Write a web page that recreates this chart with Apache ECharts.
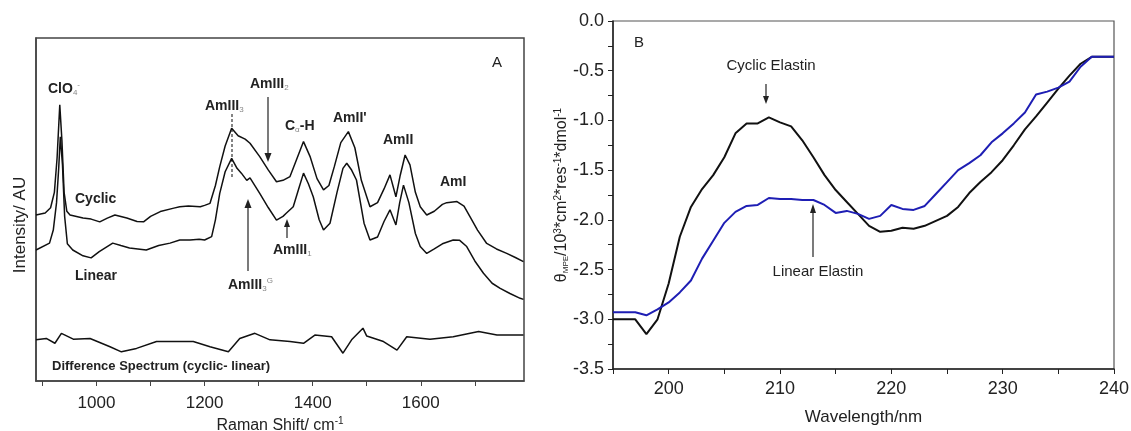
<!DOCTYPE html>
<html>
<head>
<meta charset="utf-8">
<script src="https://cdn.jsdelivr.net/npm/echarts@6/dist/echarts.min.js"></script>
<style>
html,body{margin:0;padding:0;background:#fff;}
#c{width:1131px;height:431px;}
</style>
</head>
<body>
<div id="c"></div>
<script>
// ---------- Panel A: Raman spectra (arbitrary intensity units) ----------
const ramanCyclicShift = [888,905,915,922,927,932,936,940,945,951,975,990,1006,1020,1034,1056,1075,1087,1100,1118,1143,1154,1170,1192,1200,1210,1220,1228,1238,1250,1262,1275,1284,1302,1318,1333,1345,1358,1370,1383,1395,1408,1420,1430,1440,1452,1466,1478,1490,1506,1520,1532,1543,1554,1562,1571,1580,1590,1599,1611,1625,1640,1648,1667,1680,1691,1705,1722,1740,1759,1775,1790];
const ramanCyclic = [48.4,49.0,50.5,55,65,80.5,70,55,49.5,48.4,47.5,47.2,46.4,47.5,48.4,47.5,46.5,46.4,48,49.4,50.4,50.8,51.0,50.8,51.2,51.8,57,62.5,68.5,73.7,71.5,70.5,69.3,65.4,61.5,58.1,58.5,59.6,64.5,69.8,65.5,59,55.7,57,62.5,69.5,72.7,68,58.5,50.8,52,56,60.1,53.7,60,65.9,63,55,50.8,48.4,49.5,51.5,52.0,52.3,51,47.9,44,40.1,38.5,37.2,36,34.8];

const ramanLinearShift = [888,913,920,926,930,933,937,941,946,956,975,990,1005,1030,1045,1061,1092,1115,1136,1154,1173,1190,1200,1213,1220,1228,1238,1250,1260,1268,1278,1284,1302,1318,1333,1345,1351,1364,1374,1383,1392,1401,1412,1420,1432,1445,1456,1463,1472,1481,1495,1506,1520,1532,1543,1554,1561,1568,1578,1590,1599,1611,1625,1640,1660,1672,1685,1700,1716,1732,1747,1765,1784,1790];
const ramanLinear = [38.2,40.2,44,52,62,71.2,63,48,40,38.2,36.5,35.9,37.7,40.2,39.5,38.8,38.2,39.5,40.2,41.1,41.1,41.3,41.1,42.1,47,54.7,61,64.9,62,60.6,58.5,59.2,54.7,50.5,46.9,48,48.9,50.8,56,60.6,57.5,53.7,47,44.0,46,55,62,63.5,61.5,58.6,46,41.1,42,46.5,49.9,45.5,52,57.1,52,43,39.2,37.2,38.5,40,41.1,41,39.2,35,31.4,28.5,27.0,25.5,24.1,23.8];

const ramanDiffShift = [888,907,923,935,957,988,1025,1046,1074,1111,1142,1179,1210,1244,1265,1293,1321,1358,1383,1404,1435,1456,1472,1493,1500,1531,1556,1574,1617,1660,1707,1741,1790];
const ramanDiff = [12.0,12.4,11.0,13.9,12.2,12.4,10.0,8.5,9.5,11.5,11.5,11.5,10.0,8.5,12.4,13.9,12.0,11.5,11.0,13.4,12.9,8.1,12.0,15.4,13.1,11.5,9.0,12.9,12.2,12.9,14.4,13.4,13.4];

const ramanTickValues = [900,1000,1100,1200,1300,1400,1500,1600,1700];
const ramanLabelValues = [1000,1200,1400,1600];

// ---------- Panel B: CD spectra ----------
const wavelength = [195,196,197,198,199,200,201,202,203,204,205,206,207,208,209,210,211,212,213,214,215,216,217,218,219,220,221,222,223,224,225,226,227,228,229,230,231,232,233,234,235,236,237,238,239,240];
const cdCyclic = [-3.0,-3.0,-3.0,-3.15,-3.0,-2.64,-2.17,-1.87,-1.69,-1.55,-1.37,-1.13,-1.03,-1.03,-0.97,-1.02,-1.06,-1.20,-1.37,-1.55,-1.70,-1.82,-1.94,-2.06,-2.12,-2.11,-2.08,-2.09,-2.06,-2.01,-1.96,-1.87,-1.73,-1.62,-1.52,-1.40,-1.25,-1.09,-0.96,-0.82,-0.68,-0.55,-0.43,-0.36,-0.36,-0.36];
const cdLinear = [-2.93,-2.93,-2.93,-2.96,-2.90,-2.83,-2.73,-2.61,-2.39,-2.21,-2.03,-1.92,-1.86,-1.85,-1.78,-1.79,-1.79,-1.80,-1.80,-1.85,-1.93,-1.91,-1.94,-1.99,-1.96,-1.85,-1.89,-1.90,-1.86,-1.74,-1.62,-1.50,-1.43,-1.35,-1.22,-1.13,-1.03,-0.92,-0.74,-0.71,-0.67,-0.61,-0.46,-0.36,-0.36,-0.36];

function pairs(xs, ys){ return xs.map((x,i)=>[x, ys[i]]); }

const FONT = '"Liberation Sans", Arial, sans-serif';
const TXT = '#222';

const chart = echarts.init(document.getElementById('c'), null, {renderer:'canvas'});

function vArrow(x, y1, y2, hl, hw){
  const dir = y2 > y1 ? 1 : -1;
  return [
    {type:'line', shape:{x1:x, y1:y1, x2:x, y2:y2 - dir*hl*0.5}, style:{stroke:'#222', lineWidth:1.2}, silent:true},
    {type:'polygon', shape:{points:[[x,y2],[x-hw,y2-dir*hl],[x+hw,y2-dir*hl]]}, style:{fill:'#222'}, silent:true}
  ];
}

function label(x, y, text, opts){
  opts = opts || {};
  return {type:'text', x:x, y:y, silent:true,
    style:Object.assign({text:text, fill:TXT, fontFamily:FONT, fontSize:opts.size||14, fontWeight:opts.weight||'bold',
      align:opts.align||'left', verticalAlign:'middle',
      rich:{
        sup:{fontSize:8, verticalAlign:'top', fontFamily:FONT, fill:'#888', lineHeight:16},
        sub:{fontSize:8, verticalAlign:'bottom', fontFamily:FONT, fill:'#888', lineHeight:16},
        n:{fontSize:opts.size||14, fontWeight:opts.weight||'bold', fontFamily:FONT, fill:TXT, lineHeight:16, verticalAlign:'middle'}
      }}, opts.style||{})};
}

const graphics = [
  // Panel A annotations
  label(48, 89, '{n|ClO}{sub|4}{sup|-}'),
  label(205, 106, '{n|AmIII}{sub|3}'),
  {type:'line', shape:{x1:232, y1:114, x2:232, y2:178}, style:{stroke:'#333', lineWidth:1.2, lineDash:[3,2]}, silent:true},
  label(250, 84, '{n|AmIII}{sub|2}'),
  ...vArrow(268, 97, 162, 9, 3.5),
  label(285, 126, '{n|C}{sub|α}{n|-H}'),
  label(333, 118, "AmII'"),
  label(383, 140, 'AmII'),
  label(440, 182, 'AmI'),
  label(497, 63, 'A', {align:'center', size:15, weight:'normal'}),
  label(273, 250, '{n|AmIII}{sub|1}'),
  ...vArrow(287, 238, 219, 8, 3),
  label(228, 285, '{n|AmIII}{sub|3}{sup|G}'),
  ...vArrow(248, 271, 199, 9, 3.5),
  label(75, 199, 'Cyclic'),
  label(75, 276, 'Linear'),
  label(52, 366, 'Difference Spectrum (cyclic- linear)', {size:13}),
  {type:'text', x:20, y:225, rotation:Math.PI/2, silent:true,
    style:{text:'Intensity/ AU', fill:TXT, fontFamily:FONT, fontSize:17, align:'center', verticalAlign:'middle'}},
  // Panel B annotations
  label(639, 43, 'B', {align:'center', size:15, weight:'normal'}),
  label(771, 66, 'Cyclic Elastin', {align:'center', size:15, weight:'normal'}),
  ...vArrow(766, 84, 104, 8, 3),
  label(818, 272, 'Linear Elastin', {align:'center', size:15, weight:'normal'}),
  ...vArrow(813, 257, 204, 9, 3)
];

const option = {
  backgroundColor:'#fff',
  animation:false,
  grid:[
    {left:36, top:38, width:488, height:343, show:true, borderColor:'#444', borderWidth:1.5, backgroundColor:'transparent', outerBoundsMode:'none', containLabel:false},
    {left:613, top:21, width:501, height:348, show:true, borderColor:'#555', borderWidth:1.2, backgroundColor:'transparent', outerBoundsMode:'none', containLabel:false}
  ],
  xAxis:[
    {type:'value', gridIndex:0, min:888, max:1791,
      axisLine:{show:true, onZero:false, lineStyle:{color:'#444', width:1.5}},
      axisTick:{show:true, inside:false, length:5, customValues:ramanTickValues, lineStyle:{color:'#444'}},
      axisLabel:{show:true, customValues:ramanLabelValues, margin:14, fontSize:17, fontFamily:FONT, color:TXT, formatter:v => String(v)},
      splitLine:{show:false},
      name:'Raman Shift/ cm{sup|-1}', nameLocation:'middle', nameGap:35, nameMoveOverlap:false,
      nameTextStyle:{fontSize:16, fontFamily:FONT, color:TXT, rich:{sup:{fontSize:10, verticalAlign:'top', fontFamily:FONT, color:TXT, lineHeight:20}}}
    },
    {type:'value', gridIndex:1, min:195, max:240, interval:5,
      axisLine:{show:true, onZero:false, lineStyle:{color:'#222', width:1.5}},
      axisTick:{show:true, inside:false, length:5, lineStyle:{color:'#222'}},
      axisLabel:{show:true, margin:11, fontSize:18, fontFamily:FONT, color:TXT,
        formatter:v => (v % 10 === 0 ? String(v) : '')},
      splitLine:{show:false},
      name:'Wavelength/nm', nameLocation:'middle', nameGap:40, nameMoveOverlap:false,
      nameTextStyle:{fontSize:17, fontFamily:FONT, color:TXT}
    }
  ],
  yAxis:[
    {type:'value', gridIndex:0, min:0, max:100,
      axisLine:{show:true, onZero:false, lineStyle:{color:'#444', width:1.5}},
      axisTick:{show:false}, axisLabel:{show:false}, splitLine:{show:false}},
    {type:'value', gridIndex:1, min:-3.5, max:0, interval:0.5,
      axisLine:{show:true, onZero:false, lineStyle:{color:'#222', width:1.5}},
      axisTick:{show:true, inside:false, length:5, lineStyle:{color:'#222'}},
      minorTick:{show:true, splitNumber:2, length:5, lineStyle:{color:'#222'}},
      axisLabel:{show:true, margin:9, fontSize:18, fontFamily:FONT, color:TXT, formatter:v => v.toFixed(1)},
      splitLine:{show:false},
      name:'θ{sub|MPE}/10{sup|3}*cm{sup|2}*res{sup|-1}*dmol{sup|-1}', nameLocation:'middle', nameGap:43, nameRotate:90, nameMoveOverlap:false,
      nameTextStyle:{fontSize:16, fontFamily:FONT, color:TXT,
        rich:{sup:{fontSize:10, verticalAlign:'top', fontFamily:FONT, color:TXT, lineHeight:17},
              sub:{fontSize:8, verticalAlign:'bottom', fontFamily:FONT, color:TXT, lineHeight:17}}}
    }
  ],
  series:[
    {type:'line', xAxisIndex:0, yAxisIndex:0, data:pairs(ramanCyclicShift, ramanCyclic), showSymbol:false, lineStyle:{color:'#111', width:1.5}, silent:true},
    {type:'line', xAxisIndex:0, yAxisIndex:0, data:pairs(ramanLinearShift, ramanLinear), showSymbol:false, lineStyle:{color:'#111', width:1.5}, silent:true},
    {type:'line', xAxisIndex:0, yAxisIndex:0, data:pairs(ramanDiffShift, ramanDiff), showSymbol:false, lineStyle:{color:'#111', width:1.5}, silent:true},
    {type:'line', xAxisIndex:1, yAxisIndex:1, data:pairs(wavelength, cdCyclic), showSymbol:false, lineStyle:{color:'#111', width:2}, silent:true},
    {type:'line', xAxisIndex:1, yAxisIndex:1, data:pairs(wavelength, cdLinear), showSymbol:false, lineStyle:{color:'#1e1eb4', width:2}, silent:true}
  ],
  graphic:graphics
};
chart.setOption(option);
</script>
</body>
</html>
